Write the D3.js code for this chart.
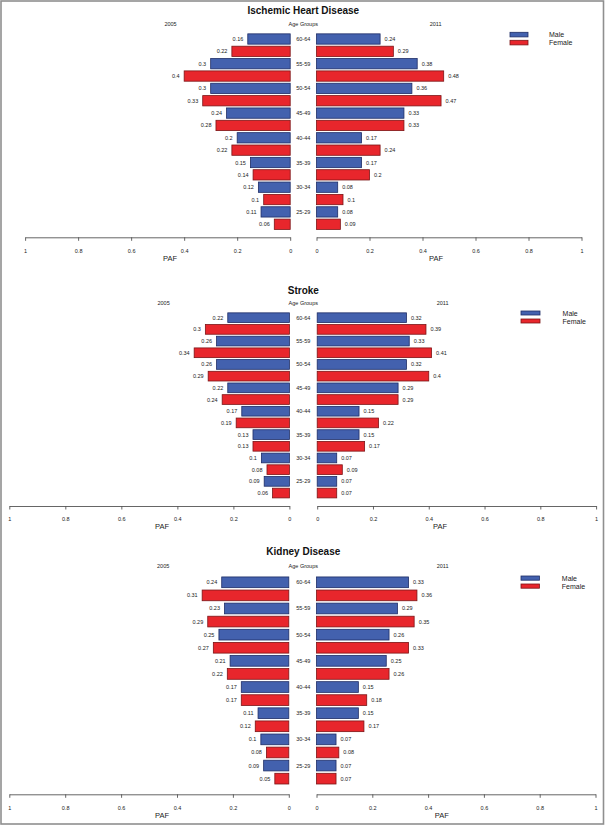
<!DOCTYPE html>
<html><head><meta charset="utf-8">
<script src="https://cdn.jsdelivr.net/npm/d3@7"></script>
<style>
body{margin:0;background:#fff}
svg{display:block}
text{font-family:"Liberation Sans",Arial,Helvetica,sans-serif}
</style>
</head><body>
<svg id="c" width="605" height="826"></svg>
<script>
// ---------- data ----------
const ageGroups = ["60-64","55-59","50-54","45-49","40-44","35-39","30-34","25-29"];
const sexes = ["Male","Female"];
const years = ["2005","2011"];
const diseases = ["Ischemic Heart Disease","Stroke","Kidney Disease"];
const tickValues = [0,0.2,0.4,0.6,0.8,1];
const tickLabels = ["0","0.2","0.4","0.6","0.8","1"];

const ihdMale2005   = [0.16,0.3,0.3,0.24,0.2,0.15,0.12,0.11];
const ihdFemale2005 = [0.22,0.4,0.33,0.28,0.22,0.14,0.1,0.06];
const ihdMale2011   = [0.24,0.38,0.36,0.33,0.17,0.17,0.08,0.08];
const ihdFemale2011 = [0.29,0.48,0.47,0.33,0.24,0.2,0.1,0.09];

const strokeMale2005   = [0.22,0.26,0.26,0.22,0.17,0.13,0.1,0.09];
const strokeFemale2005 = [0.3,0.34,0.29,0.24,0.19,0.13,0.08,0.06];
const strokeMale2011   = [0.32,0.33,0.32,0.29,0.15,0.15,0.07,0.07];
const strokeFemale2011 = [0.39,0.41,0.4,0.29,0.22,0.17,0.09,0.07];

const kidneyMale2005   = [0.24,0.23,0.25,0.21,0.17,0.11,0.1,0.09];
const kidneyFemale2005 = [0.31,0.29,0.27,0.22,0.17,0.12,0.08,0.05];
const kidneyMale2011   = [0.33,0.29,0.26,0.25,0.15,0.15,0.07,0.07];
const kidneyFemale2011 = [0.36,0.35,0.33,0.26,0.18,0.17,0.08,0.07];

// ---------- layout / style ----------
const panelSeries = [
  {m05: ihdMale2005, f05: ihdFemale2005, m11: ihdMale2011, f11: ihdFemale2011},
  {m05: strokeMale2005, f05: strokeFemale2005, m11: strokeMale2011, f11: strokeFemale2011},
  {m05: kidneyMale2005, f05: kidneyFemale2005, m11: kidneyMale2011, f11: kidneyFemale2011}
];
const layouts = [
  {titleY:10, headY:24, rowY0:39, rowStep:12.35, barH:10.3, lz:290.2, l1:25.1, rz:316.5, r1:581.5,
   axisY:237.3, pafY:258.3, yLeftX:170.5, yRightX:435.6, pafLeftX:170, pafRightX:436,
   legX:510, legW:18, legY:32.3, legH:4.6, legGap:8, legTextX:549},
  {titleY:290, headY:303, rowY0:317.7, rowStep:11.69, barH:9.7, lz:289.4, l1:9.3, rz:317.2, r1:596.1,
   axisY:506, pafY:526, yLeftX:163.6, yRightX:442.6, pafLeftX:162, pafRightX:440,
   legX:521, legW:19, legY:311, legH:4, legGap:8, legTextX:562.6},
  {titleY:551.7, headY:566, rowY0:582.3, rowStep:13.09, barH:10.7, lz:288.8, l1:9.3, rz:316.5, r1:595.5,
   axisY:794.3, pafY:815, yLeftX:163.2, yRightX:442.6, pafLeftX:162, pafRightX:441.8,
   legX:521, legW:18.4, legY:576, legH:4.2, legGap:8, legTextX:561.8}
];
const centerX = 303.3;
const fills = {Male:"#4361ae", Female:"#e8262c"};
const strokes = {Male:"#1e2d66", Female:"#7c1416"};
const textColor = "#222";

const svg = d3.select("#c");

// outer frame
svg.append("rect").attr("x",1).attr("y",1).attr("width",602.5).attr("height",823)
  .attr("fill","none").attr("stroke","#8f8f8f").attr("stroke-width",1.6);

panelSeries.forEach((s, pi) => {
  const L = layouts[pi];
  const g = svg.append("g");

  // rows: for each age group, male row then female row
  const rows = [];
  ageGroups.forEach((a, ai) => {
    rows.push({age:a, sex:"Male", v05:s.m05[ai], v11:s.m11[ai]});
    rows.push({age:a, sex:"Female", v05:s.f05[ai], v11:s.f11[ai]});
  });
  const rowKeys = rows.map(r => r.age + "|" + r.sex);
  const y = d3.scaleBand().domain(rowKeys)
    .range([L.rowY0 - L.rowStep/2, L.rowY0 + L.rowStep*(rows.length - 0.5)])
    .paddingInner(1 - L.barH/L.rowStep).paddingOuter((1 - L.barH/L.rowStep)/2);
  const xl = d3.scaleLinear().domain([0,1]).range([L.lz, L.l1]);
  const xr = d3.scaleLinear().domain([0,1]).range([L.rz, L.r1]);

  // title and headers
  g.append("text").attr("x",centerX).attr("y",L.titleY).attr("text-anchor","middle")
    .attr("dominant-baseline","central").attr("font-size",10).attr("font-weight","bold")
    .attr("fill","#111").text(diseases[pi]);
  g.append("text").attr("x",L.yLeftX).attr("y",L.headY).attr("text-anchor","middle")
    .attr("dominant-baseline","central").attr("font-size",5.5).attr("fill",textColor).text(years[0]);
  g.append("text").attr("x",centerX).attr("y",L.headY).attr("text-anchor","middle")
    .attr("dominant-baseline","central").attr("font-size",5.5).attr("fill",textColor).text("Age Groups");
  g.append("text").attr("x",L.yRightX).attr("y",L.headY).attr("text-anchor","middle")
    .attr("dominant-baseline","central").attr("font-size",5.5).attr("fill",textColor).text(years[1]);

  const key = r => r.age + "|" + r.sex;

  // left bars (2005)
  g.selectAll("rect.l").data(rows).join("rect").attr("class","l")
    .attr("x", r => xl(r.v05)).attr("y", r => y(key(r)))
    .attr("width", r => L.lz - xl(r.v05)).attr("height", y.bandwidth())
    .attr("fill", r => fills[r.sex]).attr("stroke", r => strokes[r.sex]).attr("stroke-width",0.8);
  // right bars (2011)
  g.selectAll("rect.r").data(rows).join("rect").attr("class","r")
    .attr("x", L.rz).attr("y", r => y(key(r)))
    .attr("width", r => xr(r.v11) - L.rz).attr("height", y.bandwidth())
    .attr("fill", r => fills[r.sex]).attr("stroke", r => strokes[r.sex]).attr("stroke-width",0.8);

  // value labels
  g.selectAll("text.lv").data(rows).join("text").attr("class","lv")
    .attr("x", r => xl(r.v05) - 4.5).attr("y", r => y(key(r)) + y.bandwidth()/2)
    .attr("text-anchor","end").attr("dominant-baseline","central")
    .attr("font-size",5.5).attr("fill",textColor).text(r => String(r.v05));
  g.selectAll("text.rv").data(rows).join("text").attr("class","rv")
    .attr("x", r => xr(r.v11) + 4.5).attr("y", r => y(key(r)) + y.bandwidth()/2)
    .attr("text-anchor","start").attr("dominant-baseline","central")
    .attr("font-size",5.5).attr("fill",textColor).text(r => String(r.v11));

  // age labels (on male rows)
  g.selectAll("text.age").data(rows.filter(r => r.sex === "Male")).join("text").attr("class","age")
    .attr("x", centerX).attr("y", r => y(key(r)) + y.bandwidth()/2)
    .attr("text-anchor","middle").attr("dominant-baseline","central")
    .attr("font-size",5.5).attr("fill",textColor).text(r => r.age);

  // axes
  const fmt = v => tickLabels[tickValues.indexOf(v)];
  [xl, xr].forEach(sc => {
    const ax = g.append("g").attr("transform",`translate(0,${L.axisY})`)
      .call(d3.axisBottom(sc).tickValues(tickValues).tickFormat(fmt).tickSize(3.5).tickSizeOuter(0));
    ax.select(".domain").attr("stroke","#555").attr("stroke-width",0.9);
    ax.selectAll(".tick line").attr("stroke","#555").attr("stroke-width",0.9);
    ax.selectAll(".tick text").attr("y",13.3).attr("dy","0.35em").attr("font-size",5.5)
      .attr("fill",textColor).attr("font-family","'Liberation Sans',Arial,sans-serif");
  });
  g.append("text").attr("x",L.pafLeftX).attr("y",L.pafY).attr("text-anchor","middle")
    .attr("dominant-baseline","central").attr("font-size",7.5).attr("fill","#222").text("PAF");
  g.append("text").attr("x",L.pafRightX).attr("y",L.pafY).attr("text-anchor","middle")
    .attr("dominant-baseline","central").attr("font-size",7.5).attr("fill","#222").text("PAF");

  // legend
  sexes.forEach((sx, si) => {
    const ly = L.legY + si*L.legGap;
    g.append("rect").attr("x",L.legX).attr("y",ly).attr("width",L.legW).attr("height",L.legH)
      .attr("fill",fills[sx]).attr("stroke",strokes[sx]).attr("stroke-width",0.8);
    g.append("text").attr("x",L.legTextX).attr("y",ly + L.legH/2).attr("dominant-baseline","central")
      .attr("font-size",7).attr("fill","#222").text(sx);
  });
});
</script>
</body></html>
